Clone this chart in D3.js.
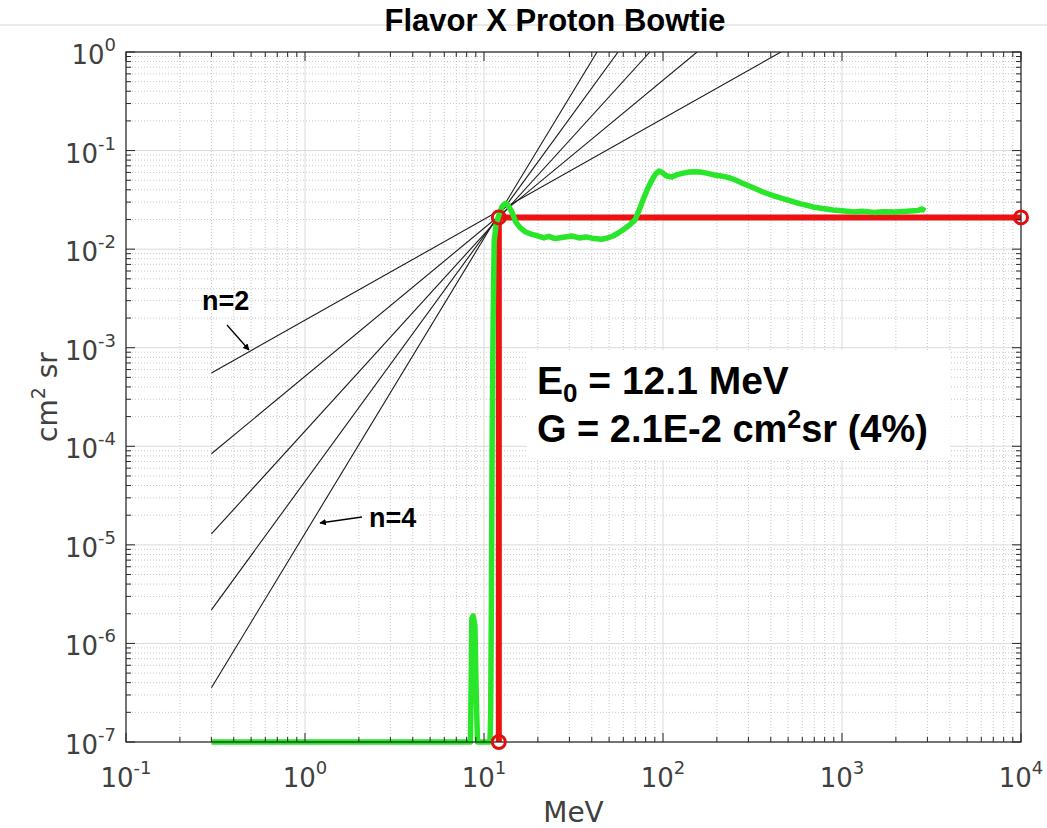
<!DOCTYPE html>
<html>
<head>
<meta charset="utf-8">
<script src="https://cdn.jsdelivr.net/npm/d3@7"></script>
<style>
  html, body { margin: 0; padding: 0; background: #fff; }
  svg { display: block; }
</style>
</head>
<body>
<svg id="chart" width="1047" height="828"></svg>
<script>
// ---------------- DATA ----------------
const titleText = "Flavor X Proton Bowtie";
const xLabel = "MeV";
const yLabelMain = "cm";
const xTickExponents = [-1, 0, 1, 2, 3, 4];
const yTickExponents = [0, -1, -2, -3, -4, -5, -6, -7];

// bowtie power-law lines: start at 0.3 MeV, end where they reach G = 1 (top of axes)
const bowtieN = [2, 2.5, 3, 3.5, 4];
const bowtieStartE = [0.3, 0.3, 0.3, 0.3, 0.3];
const bowtieStartG = [5.55e-4, 8.4e-5, 1.29e-5, 2.19e-6, 3.55e-7];
const bowtieEndE = [456, 155, 84.5, 56.1, 42.8];
const bowtieEndG = [1, 1, 1, 1, 1];

// measured geometric factor curve (green)
const greenE = [0.3, 8.4, 8.5, 8.55, 8.7, 8.9, 9.05, 9.2, 10.8, 10.9, 11.0, 11.1, 11.25, 11.4, 11.7,
  12.1, 12.6, 13.1, 13.6, 14.3, 15.0, 15.9, 17, 18.1, 19.5, 21.6, 23, 25, 28.4, 31, 34, 37.2, 41,
  45.6, 49, 52.6, 56, 59.8, 64, 69.8, 73, 77.3, 82, 86.8, 91, 95, 99, 104, 112, 120, 130, 140, 150,
  161, 175, 193, 215, 237, 256, 276, 310, 362, 420, 499, 580, 689, 780, 891, 1000, 1167, 1300, 1510,
  1700, 1977, 2200, 2399, 2650, 2800, 2910];
const greenG = [1e-7, 1e-7, 6e-7, 1.8e-6, 1.9e-6, 1.5e-6, 3e-7, 1e-7, 1e-7, 2e-7, 3e-6, 1e-4, 2e-3, 0.012, 0.018,
  0.022, 0.027, 0.029, 0.028, 0.024, 0.019, 0.0165, 0.015, 0.0143, 0.0138, 0.013, 0.0135, 0.0128, 0.0133, 0.0136, 0.013, 0.0133, 0.0128,
  0.0126, 0.013, 0.0136, 0.0145, 0.0157, 0.0172, 0.0198, 0.024, 0.0315, 0.041, 0.0503, 0.058, 0.0621, 0.060, 0.0555, 0.054, 0.057, 0.059, 0.0607, 0.061,
  0.0607, 0.059, 0.0566, 0.055, 0.0527, 0.050, 0.0469, 0.043, 0.038, 0.0345, 0.0315, 0.029, 0.0268, 0.0258, 0.025, 0.0245, 0.0238, 0.0242, 0.0236,
  0.024, 0.0238, 0.0241, 0.0244, 0.0246, 0.0256, 0.0244];

// bowtie result (red)
const redE = [12.1, 12.1, 1e4];
const redG = [1e-7, 0.021, 0.021];

const annotLine1 = ["E", "0", " = 12.1 MeV"];
const annotLine2 = ["G = 2.1E-2 cm", "2", "sr (4%)"];
const nLabels = ["n=2", "n=4"];

// ---------------- LAYOUT ----------------
const svg = d3.select("#chart");
const L = 126, R = 1021, T = 52, B = 742;
const x = d3.scaleLog().domain([1e-1, 1e4]).range([L, R]);
const y = d3.scaleLog().domain([1e-7, 1e0]).range([B, T]);

const axisColor = "#262626";
const labelColor = "#404040";
const tickFont = "DejaVu Sans, sans-serif";

// top separator line behind title
svg.append("line").attr("x1", 0).attr("x2", 1047).attr("y1", 25).attr("y2", 25)
  .attr("stroke", "#e2e2e2").attr("stroke-width", 1.5);

// title
svg.append("text").attr("x", 555).attr("y", 31).attr("text-anchor", "middle")
  .attr("font-family", "Liberation Sans, Arial, sans-serif").attr("font-weight", "bold")
  .attr("font-size", 31).attr("fill", "#000").text(titleText);

// ---------------- GRID ----------------
const minorX = [], minorY = [];
for (let e = -1; e < 4; e++) for (let m = 2; m <= 9; m++) minorX.push(m * Math.pow(10, e));
for (let e = -7; e < 0; e++) for (let m = 2; m <= 9; m++) minorY.push(m * Math.pow(10, e));
const majorX = xTickExponents.map(e => Math.pow(10, e));
const majorY = yTickExponents.map(e => Math.pow(10, e));

const grid = svg.append("g");
grid.selectAll(".mx").data(minorX).join("line")
  .attr("x1", d => x(d)).attr("x2", d => x(d)).attr("y1", T).attr("y2", B)
  .attr("stroke", "#c8c8c8").attr("stroke-width", 1).attr("stroke-dasharray", "1,2");
grid.selectAll(".my").data(minorY).join("line")
  .attr("y1", d => y(d)).attr("y2", d => y(d)).attr("x1", L).attr("x2", R)
  .attr("stroke", "#c8c8c8").attr("stroke-width", 1).attr("stroke-dasharray", "1,2");
grid.selectAll(".Mx").data(majorX).join("line")
  .attr("x1", d => x(d)).attr("x2", d => x(d)).attr("y1", T).attr("y2", B)
  .attr("stroke", "#dadada").attr("stroke-width", 1);
grid.selectAll(".My").data(majorY).join("line")
  .attr("y1", d => y(d)).attr("y2", d => y(d)).attr("x1", L).attr("x2", R)
  .attr("stroke", "#dadada").attr("stroke-width", 1);

// clip (top edge exact; small allowance at the bottom so the floor trace shows fully)
svg.append("clipPath").attr("id", "clip").append("rect")
  .attr("x", L).attr("y", T).attr("width", R - L + 4).attr("height", B - T + 4);

// white annotation box
svg.append("rect").attr("x", 527).attr("y", 350).attr("width", 423).attr("height", 110).attr("fill", "#fff");

// ---------------- BOWTIE LINES ----------------
const plot = svg.append("g").attr("clip-path", "url(#clip)");
const line = d3.line().x(d => x(d[0])).y(d => y(d[1]));
plot.selectAll(".bow").data(bowtieN).join("path")
  .attr("d", (d, i) => line([[bowtieStartE[i], bowtieStartG[i]], [bowtieEndE[i], bowtieEndG[i]]]))
  .attr("fill", "none").attr("stroke", "#1a1a1a").attr("stroke-width", 1.1);

// red bowtie result
const redPts = redE.map((e, i) => [e, redG[i]]);
plot.append("path").attr("d", line(redPts)).attr("fill", "none")
  .attr("stroke", "#ee1111").attr("stroke-width", 6).attr("stroke-linejoin", "round");

// green measured curve
const greenPts = greenE.map((e, i) => [e, greenG[i]]);
plot.append("path").attr("d", line(greenPts)).attr("fill", "none")
  .attr("stroke", "#2ae62a").attr("stroke-width", 5.5).attr("stroke-linejoin", "round");

// ---------------- AXES ----------------
const ax = svg.append("g");
ax.append("rect").attr("x", L).attr("y", T).attr("width", R - L).attr("height", B - T)
  .attr("fill", "none").attr("stroke", axisColor).attr("stroke-width", 1.2);

function ticksX(vals, len) {
  vals.forEach(v => {
    ax.append("line").attr("x1", x(v)).attr("x2", x(v)).attr("y1", B).attr("y2", B - len).attr("stroke", axisColor);
    ax.append("line").attr("x1", x(v)).attr("x2", x(v)).attr("y1", T).attr("y2", T + len).attr("stroke", axisColor);
  });
}
function ticksY(vals, len) {
  vals.forEach(v => {
    ax.append("line").attr("y1", y(v)).attr("y2", y(v)).attr("x1", L).attr("x2", L + len).attr("stroke", axisColor);
    ax.append("line").attr("y1", y(v)).attr("y2", y(v)).attr("x1", R).attr("x2", R - len).attr("stroke", axisColor);
  });
}
ticksX(minorX, 5); ticksX(majorX, 9);
ticksY(minorY, 5); ticksY(majorY, 9);

// red circles (drawn over the axes)
svg.selectAll(".rc").data(redPts).join("circle")
  .attr("cx", d => x(d[0])).attr("cy", d => y(d[1])).attr("r", 6.5)
  .attr("fill", "none").attr("stroke", "#e01010").attr("stroke-width", 3);

// x tick labels
xTickExponents.forEach(e => {
  const t = ax.append("text").attr("x", x(Math.pow(10, e))).attr("y", 787)
    .attr("text-anchor", "middle").attr("font-family", tickFont).attr("fill", labelColor).attr("font-size", 26);
  t.append("tspan").text("10");
  t.append("tspan").attr("dy", -13).attr("font-size", 18).text(String(e));
});
// y tick labels
yTickExponents.forEach(e => {
  const t = ax.append("text").attr("x", 116).attr("y", y(Math.pow(10, e)) + 12)
    .attr("text-anchor", "end").attr("font-family", tickFont).attr("fill", labelColor).attr("font-size", 26);
  t.append("tspan").text("10");
  t.append("tspan").attr("dy", -13).attr("font-size", 18).text(String(e));
});

// axis labels
svg.append("text").attr("x", (L + R) / 2).attr("y", 822).attr("text-anchor", "middle")
  .attr("font-family", tickFont).attr("font-size", 28).attr("fill", labelColor).text(xLabel);
const yl = svg.append("text").attr("transform", `translate(57,${(T + B) / 2}) rotate(-90)`)
  .attr("text-anchor", "middle").attr("font-family", tickFont).attr("font-size", 28).attr("fill", labelColor);
yl.append("tspan").text(yLabelMain);
yl.append("tspan").attr("dy", -12).attr("font-size", 19).text("2");
yl.append("tspan").attr("dy", 12).text(" sr");

// ---------------- ANNOTATIONS ----------------
const bold = "Liberation Sans, Arial, sans-serif";
const a1 = svg.append("text").attr("x", 537).attr("y", 394).attr("font-family", bold)
  .attr("font-weight", "bold").attr("font-size", 39).attr("fill", "#000");
a1.append("tspan").text(annotLine1[0]);
a1.append("tspan").attr("dy", 8).attr("font-size", 26).text(annotLine1[1]);
a1.append("tspan").attr("dy", -8).text(annotLine1[2]);
const a2 = svg.append("text").attr("x", 537).attr("y", 442).attr("font-family", bold)
  .attr("font-weight", "bold").attr("font-size", 38).attr("fill", "#000");
a2.append("tspan").text(annotLine2[0]);
a2.append("tspan").attr("dy", -14).attr("font-size", 25).text(annotLine2[1]);
a2.append("tspan").attr("dy", 14).text(annotLine2[2]);

// n labels with arrows
svg.append("defs").append("marker").attr("id", "arr").attr("viewBox", "0 0 10 10")
  .attr("refX", 9).attr("refY", 5).attr("markerWidth", 5).attr("markerHeight", 5).attr("orient", "auto")
  .append("path").attr("d", "M0,0 L10,5 L0,10 z").attr("fill", "#000");
svg.append("text").attr("x", 202).attr("y", 310).attr("font-family", bold).attr("font-weight", "bold")
  .attr("font-size", 27).text(nLabels[0]);
svg.append("line").attr("x1", 227).attr("y1", 325).attr("x2", 249).attr("y2", 350)
  .attr("stroke", "#000").attr("stroke-width", 1.3).attr("marker-end", "url(#arr)");
svg.append("text").attr("x", 369).attr("y", 527).attr("font-family", bold).attr("font-weight", "bold")
  .attr("font-size", 27).text(nLabels[1]);
svg.append("line").attr("x1", 362).attr("y1", 517).attr("x2", 320).attr("y2", 523)
  .attr("stroke", "#000").attr("stroke-width", 1.3).attr("marker-end", "url(#arr)");
</script>
</body>
</html>
